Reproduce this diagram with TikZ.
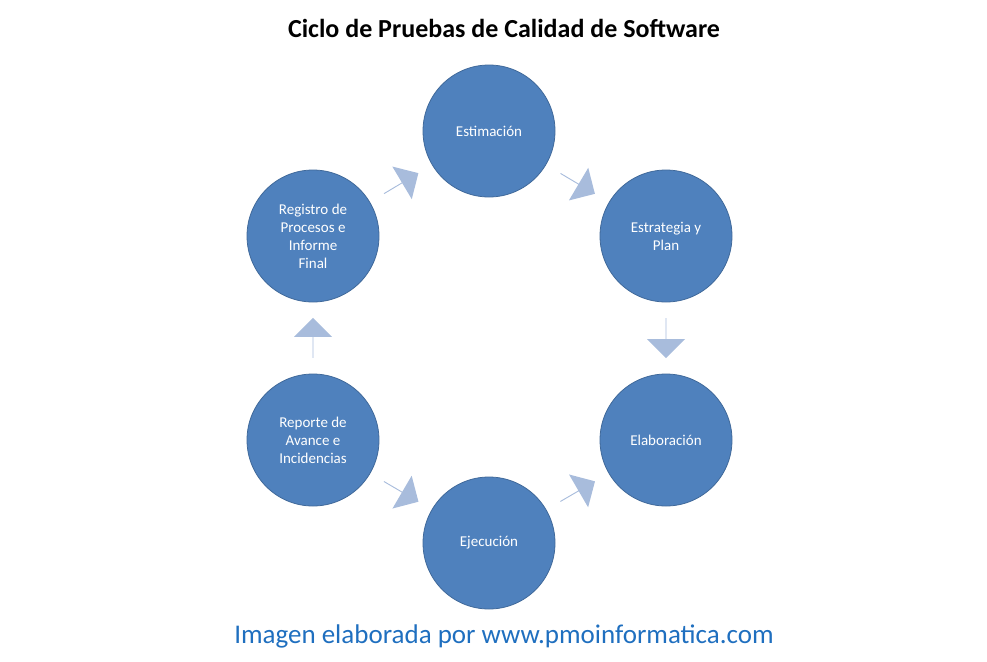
\documentclass[tikz,border=0pt]{standalone}
\usepackage{fontspec}
\setmainfont{Carlito}
\usetikzlibrary{shapes.arrows}
\definecolor{circ}{HTML}{4F81BD}
\definecolor{circb}{HTML}{40699A}
\definecolor{arr}{HTML}{A8BCDC}
\definecolor{foot}{HTML}{1F6FBF}
\tikzset{
  stage/.style={circle, fill=circ, draw=circb, line width=0.8pt, minimum size=132pt, inner sep=0pt, text=white, font=\fontsize{15}{18}\selectfont, align=center},
  barrow/.style={single arrow, fill=arr, draw=none, minimum height=40pt, minimum width=38pt, single arrow head extend=8pt, inner sep=0pt, sloped}
}
\begin{document}
\begin{tikzpicture}[x=1pt,y=-1pt]
\useasboundingbox (0,0) rectangle (987,661);
\node[font=\bfseries\fontsize{26}{30}\selectfont] (title) at (504,28) {Ciclo de Pruebas de Calidad de Software};
\node[stage] (e1) at (489,131) {Estimación};
\node[stage] (e2) at (666,236) {Estrategia y\\Plan};
\node[stage] (e3) at (666,440) {Elaboración};
\node[stage] (e4) at (489,543) {Ejecución};
\node[stage] (e5) at (313,440) {Reporte de\\Avance e\\Incidencias};
\node[stage] (e6) at (313,236) {Registro de\\Procesos e\\Informe\\Final};
\path (e1) -- node[barrow]{} (e2);
\path (e2) -- node[barrow]{} (e3);
\path (e3) -- node[barrow]{} (e4);
\path (e4) -- node[barrow]{} (e5);
\path (e5) -- node[barrow]{} (e6);
\path (e6) -- node[barrow]{} (e1);
\node[text=foot, font=\fontsize{27}{32}\selectfont] (footer) at (504,636) {Imagen elaborada por www.pmoinformatica.com};
\end{tikzpicture}
\end{document}
